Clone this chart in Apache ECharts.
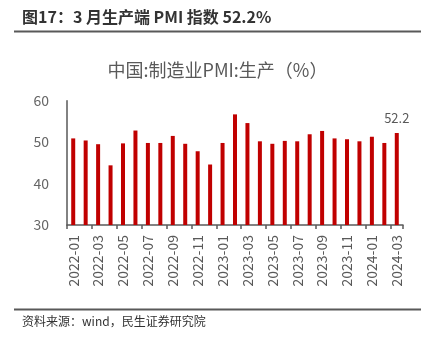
<!DOCTYPE html>
<html>
<head>
<meta charset="utf-8">
<script src="https://cdn.jsdelivr.net/npm/echarts@6/dist/echarts.min.js"></script>
<style>
html,body{margin:0;padding:0;background:#fff;}
#c{width:435px;height:342px;}
</style>
</head>
<body>
<div id="c"></div>
<script>
var categories = ['2022-01','2022-02','2022-03','2022-04','2022-05','2022-06','2022-07','2022-08','2022-09','2022-10','2022-11','2022-12',
  '2023-01','2023-02','2023-03','2023-04','2023-05','2023-06','2023-07','2023-08','2023-09','2023-10','2023-11','2023-12',
  '2024-01','2024-02','2024-03'];
var values = [50.9,50.4,49.5,44.4,49.7,52.8,49.8,49.8,51.5,49.6,47.8,44.6,
  49.8,56.7,54.6,50.2,49.6,50.3,50.2,51.9,52.7,50.9,50.7,50.2,
  51.3,49.8,52.2];
var yTicks = [30,40,50,60];
var headerText = '图17：3 月生产端 PMI 指数 52.2%';
var chartTitle = '中国:制造业PMI:生产（%）';
var sourceText = '资料来源：wind，民生证券研究院';

var font = '"Noto Sans CJK SC","Noto Sans",sans-serif';
var chart = echarts.init(document.getElementById('c'), null, {renderer:'canvas'});
var lastIdx = values.length - 1;
chart.setOption({
  animation:false,
  backgroundColor:'#fff',
  title:{
    text:chartTitle, left:'center', top:56,
    textStyle:{fontFamily:font, fontSize:18, fontWeight:'normal', color:'#595959'}
  },
  graphic:[
    {type:'text', left:22, top:9, style:{text:headerText, font:'bold 16px ' + font, fill:'#333'}},
    {type:'line', shape:{x1:14,y1:31.5,x2:421,y2:31.5}, style:{stroke:'#595959', lineWidth:2}},
    {type:'line', shape:{x1:14,y1:309.5,x2:421,y2:309.5}, style:{stroke:'#595959', lineWidth:2}},
    {type:'text', left:22, top:315, style:{text:sourceText, font:'12px ' + font, fill:'#333'}}
  ],
  grid:{left:67, right:32, top:100.7, bottom:117, containLabel:false},
  xAxis:{
    type:'category', data:categories, boundaryGap:true,
    axisLine:{lineStyle:{color:'#595959', width:1.5}},
    axisTick:{show:true, interval:1, length:4, lineStyle:{color:'#595959', width:1.5}},
    axisLabel:{interval:1, rotate:90, fontSize:14, color:'#595959', fontFamily:font, margin:10}
  },
  yAxis:{
    type:'value', min:yTicks[0], max:yTicks[yTicks.length-1], interval:10,
    splitLine:{show:false},
    axisLine:{show:true, lineStyle:{color:'#595959', width:1.5}},
    axisTick:{show:false},
    axisLabel:{fontSize:14, color:'#666', fontFamily:font, margin:18}
  },
  series:[{
    type:'bar', data:values.map(function(v,i){
      return i===lastIdx ? {value:v, label:{show:true, position:'top', distance:8, fontSize:13, color:'#595959', fontFamily:font}} : v;
    }),
    barWidth:4,
    itemStyle:{color:'#C00000'}
  }]
});
</script>
</body>
</html>
